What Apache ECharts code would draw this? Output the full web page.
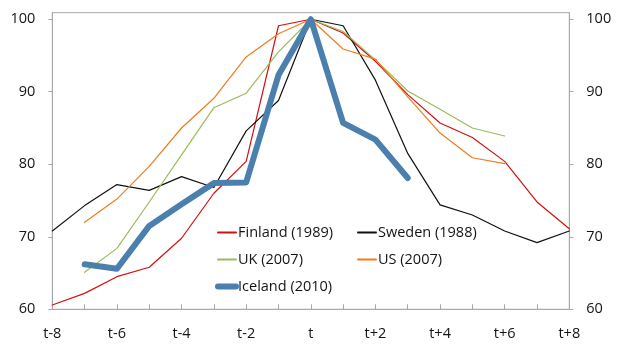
<!DOCTYPE html>
<html>
<head>
<meta charset="utf-8">
<script src="https://cdn.jsdelivr.net/npm/echarts@6/dist/echarts.min.js"></script>
<style>
  html, body { margin: 0; padding: 0; background: #fff; }
  #chart { width: 625px; height: 345px; }
</style>
</head>
<body>
<div id="chart"></div>
<script>
// Periods relative to the peak year t
const periods = ['t-8','t-7','t-6','t-5','t-4','t-3','t-2','t-1','t','t+1','t+2','t+3','t+4','t+5','t+6','t+7','t+8'];
const yTicks = [60, 70, 80, 90, 100];

// Index, peak = 100
const finland = [60.6, 62.2, 64.5, 65.8, 69.8, 76.0, 80.4, 99.1, 100, 98.1, 94.2, 89.6, 85.7, 83.7, 80.4, 74.8, 71.1];
const sweden  = [70.8, 74.3, 77.2, 76.4, 78.3, 76.8, 84.6, 88.8, 100, 99.1, 91.6, 81.5, 74.4, 73.0, 70.8, 69.2, 70.8];
const uk      = [null, 65.1, 68.4, 74.8, 81.3, 87.8, 89.8, 95.5, 100, 98.3, 94.4, 90.1, 87.6, 85.0, 83.9, null, null];
const us      = [null, 72.0, 75.2, 79.7, 85.0, 89.1, 94.8, 98.0, 100, 95.9, 94.5, 89.3, 84.3, 80.9, 80.1, null, null];
const iceland = [null, 66.2, 65.6, 71.5, 74.5, 77.4, 77.5, 92.3, 100, 85.7, 83.4, 78.1, null, null, null, null, null];

const FONT = '"Open Sans", sans-serif';
const TXT = '#141414';
const AXIS = '#a8a8a8';
const ICELAND = '#4a7fae';

function lineSeries(name, data, color, width, z) {
  return {
    name: name,
    type: 'line',
    data: data,
    symbol: 'none',
    connectNulls: false,
    z: z,
    lineStyle: { color: color, width: width, cap: 'round', join: 'round' },
    itemStyle: { color: color }
  };
}

function yAxisDef(pos) {
  return {
    type: 'value',
    position: pos,
    min: 60,
    max: 100.9,
    interval: 10,
    splitLine: { show: false },
    axisLine: { show: true, lineStyle: { color: AXIS, width: 1 } },
    axisTick: { show: true, length: 4, customValues: yTicks, lineStyle: { color: AXIS } },
    axisLabel: { customValues: yTicks, margin: 17, color: TXT, fontFamily: FONT, fontSize: 14.5 }
  };
}

// Legend keys are plain line segments (no point marker)
const legendBase = {
  orient: 'vertical', top: 225, padding: 0,
  itemWidth: 18, itemHeight: 12, itemGap: 12,
  itemStyle: { opacity: 0 },
  textStyle: { color: TXT, fontFamily: FONT, fontSize: 14.5, lineHeight: 15, padding: [0, 0, 0, -3] }
};

const chart = echarts.init(document.getElementById('chart'), null, { renderer: 'canvas' });
chart.setOption({
  animation: false,
  backgroundColor: '#fff',
  grid: {
    left: 52.3, right: 55.7, top: 12.7, bottom: 35.7,
    show: true, borderColor: AXIS, borderWidth: 1, backgroundColor: 'transparent'
  },
  legend: [
    Object.assign({}, legendBase, {
      data: ['Finland (1989)', 'UK (2007)',
        { name: 'Iceland (2010)', lineStyle: { color: ICELAND, width: 6, cap: 'round' } }],
      left: 215
    }),
    Object.assign({}, legendBase, { data: ['Sweden (1988)', 'US (2007)'], left: 357 })
  ],
  xAxis: {
    type: 'category',
    data: periods,
    boundaryGap: false,
    axisLine: { show: true, lineStyle: { color: AXIS, width: 1 } },
    axisTick: { show: true, inside: true, length: 5, interval: 0, lineStyle: { color: AXIS } },
    axisLabel: { interval: 1, margin: 17, color: TXT, fontFamily: FONT, fontSize: 14.5 },
    splitLine: { show: false }
  },
  yAxis: [yAxisDef('left'), yAxisDef('right')],
  series: [
    lineSeries('Finland (1989)', finland, '#d40f0f', 1.2, 2),
    lineSeries('Sweden (1988)', sweden, '#111111', 1.2, 2),
    lineSeries('UK (2007)', uk, '#9bbb59', 1.2, 2),
    lineSeries('US (2007)', us, '#ef7d1e', 1.2, 2),
    lineSeries('Iceland (2010)', ICELAND ? iceland : iceland, ICELAND, 6, 3)
  ]
});
</script>
</body>
</html>
